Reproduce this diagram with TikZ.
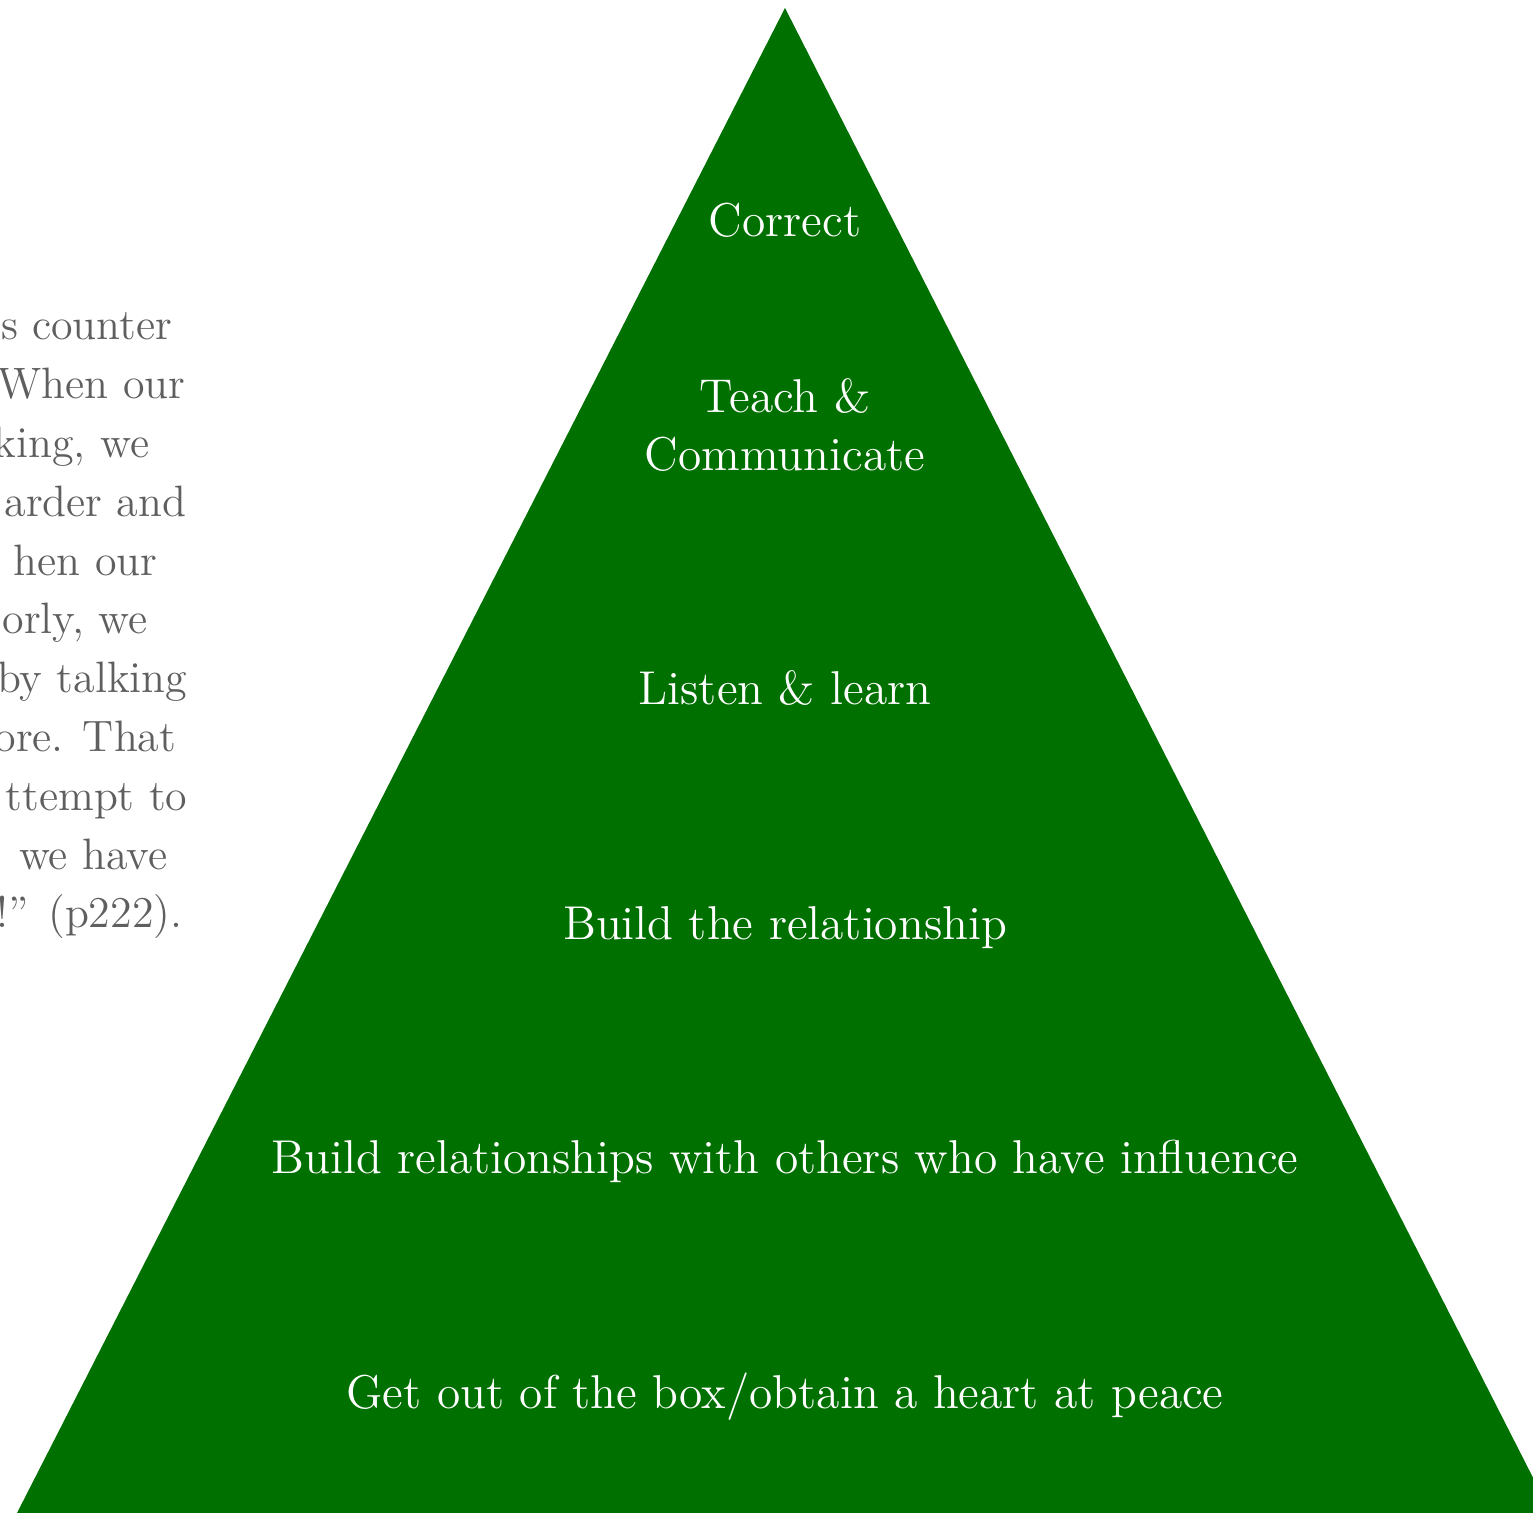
\documentclass[tikz,border=0pt]{standalone}
\definecolor{pyramidgreen}{RGB}{0,112,0}
\definecolor{quotegray}{RGB}{95,95,95}
\begin{document}
\begin{tikzpicture}[x=0.01cm, y=-0.01cm,
    level/.style={text=white, font=\fontsize{13.5}{16.6}\selectfont, align=center, inner sep=0pt},
    quote/.style={text=quotegray, font=\fontsize{12.5}{16.6}\selectfont, inner sep=0pt, anchor=base east}]
    % Fix the page size
    \useasboundingbox (0,0) rectangle (1533,1513);

    % Draw the pyramid
    \coordinate (apex) at (785,8);
    \coordinate (baseL) at (17,1513);
    \coordinate (baseR) at (1551,1513);
    \fill[pyramidgreen] (apex) -- (baseL) -- (baseR) -- cycle;

    % Label the levels, top to bottom
    \node[level, anchor=base] (correct) at (785,237) {Correct};
    \node[level] (teach) at (785,425) {Teach \&\\Communicate};
    \node[level, anchor=base] (listen) at (785,705) {Listen \& learn};
    \node[level, anchor=base] (build) at (785,940) {Build the relationship};
    \node[level, anchor=base] (others) at (785,1173) {Build relationships with others who have influence};
    \node[level, anchor=base] (peace) at (785,1408) {Get out of the box/obtain a heart at peace};

    % Quote lines, cut off at the left edge (ragged right)
    \foreach \words/\xr [count=\i from 0] in {{s counter}/173, {When our}/186, {king, we}/150,
        {arder and}/187, {hen our}/158, {orly, we}/148, {by talking}/188, {ore. That}/177,
        {ttempt to}/188, {we have}/168, {n!'' (p222).}/183}
        \node[quote] (quote\i) at ({\xr},{340+58.8*\i}) {\words};
\end{tikzpicture}
\end{document}
